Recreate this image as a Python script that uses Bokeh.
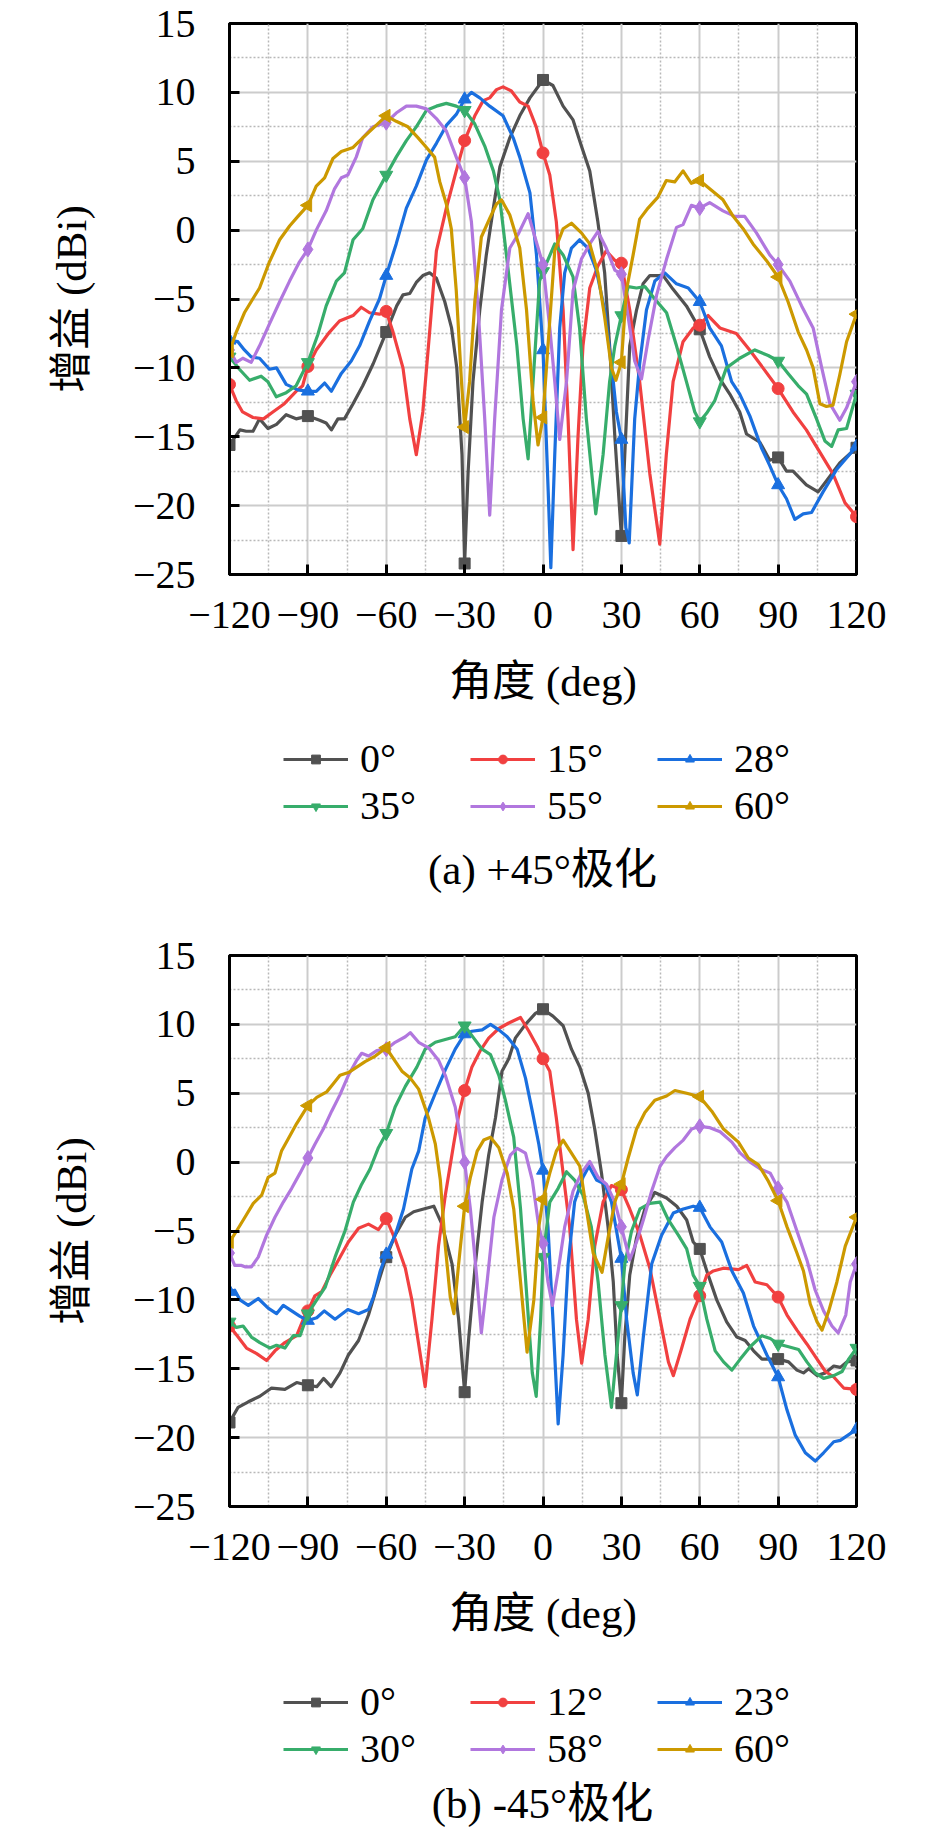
import math
from bokeh.plotting import figure
from bokeh.models import FixedTicker, Legend, LegendItem, Label
from bokeh.layouts import column
from bokeh.embed import file_html
from bokeh.resources import INLINE

# ---------------- data (angle in deg, gain in dBi) ----------------
X_TICKS = [-120, -90, -60, -30, 0, 30, 60, 90, 120]
X_LABELS = ["\u2212120", "\u221290", "\u221260", "\u221230", "0", "30", "60", "90", "120"]
X_MINOR = [-105, -75, -45, -15, 15, 45, 75, 105]
Y_TICKS = [15, 10, 5, 0, -5, -10, -15, -20, -25]
Y_LABELS = ["15", "10", "5", "0", "\u22125", "\u221210", "\u221215", "\u221220", "\u221225"]
Y_MINOR = [12.5, 7.5, 2.5, -2.5, -7.5, -12.5, -17.5, -22.5]

LABELS_A = ["0°", "15°", "28°", "35°", "55°", "60°"]
LABELS_B = ["0°", "12°", "23°", "30°", "58°", "60°"]
CAPTION_A = "(a) +45°极化"
CAPTION_B = "(b) -45°极化"
X_TITLE = "角度 (deg)"
Y_TITLE = "增益 (dBi)"

a0 = [(-120,-15.6),(-116,-14.5),(-113.6,-14.6),(-111,-14.6),(-108.5,-13.7),(-105.3,-14.4),(-102,-14.1),
      (-98.3,-13.4),(-94.5,-13.7),(-90,-13.5),(-85.5,-13.8),(-83,-14.0),(-81,-14.5),(-78.5,-13.7),(-76,-13.7),
      (-72.7,-12.6),(-69,-11.3),(-65,-9.7),(-60,-7.4),(-56,-5.5),(-53.6,-4.7),(-51,-4.6),(-48.5,-3.8),(-46,-3.3),
      (-43.4,-3.1),(-40.8,-3.5),(-37.6,-5.2),(-35,-7.1),(-33,-10),(-31,-16.3),(-30,-24.2),(-28.7,-17.7),
      (-26.8,-11),(-24.2,-5.8),(-21.7,-1.8),(-19,1.6),(-16.5,4.6),(-12.7,6.7),(-8.9,8.3),(-5,9.6),(0,10.9),
      (3.8,10.5),(7.7,9.0),(11.5,8.0),(14.7,6.1),(17.9,4.3),(21,0.6),(23.6,-3.1),(25.5,-8.4),(27.5,-15),
      (30,-22.2),(31.3,-16.3),(33.2,-8.4),(35.8,-5.8),(38.3,-3.9),(40.9,-3.3),(46,-3.3),(49.8,-4.3),(54.9,-5.5),
      (60,-7.2),(63.8,-9.2),(67.7,-10.8),(71.5,-11.9),(75.3,-13.2),(77.9,-14.8),(83,-15.4),(86.8,-16.7),
      (90,-16.5),(93.2,-17.5),(95.7,-17.5),(100.8,-18.5),(105.3,-19.0),(109.7,-17.9),(113.6,-16.9),(120,-15.8)]
a1 = [(-120,-11.2),(-117.4,-12.4),(-115,-13.2),(-111,-13.6),(-107,-13.7),(-103.4,-13.2),(-99,-12.6),
      (-94.5,-11.7),(-92,-11.3),(-90,-9.9),(-86.8,-8.7),(-81.7,-7.4),(-77.9,-6.6),(-72.7,-6.2),(-69.6,-5.6),
      (-66.4,-6.0),(-62.6,-6.1),(-60,-5.9),(-57.4,-7.4),(-53.6,-10),(-51,-13.7),(-48.5,-16.3),(-46,-13.2),
      (-43.4,-7.4),(-40.8,-1.5),(-37,1.6),(-33.2,4.3),(-30,6.5),(-26.1,8.3),(-22.9,9.4),(-20.4,9.6),
      (-17.8,10.2),(-15.3,10.4),(-12.1,10.1),(-8.9,9.3),(-5.7,9.0),(-2.6,7.5),(0,5.6),(2.6,4.0),(5.1,0.6),
      (7.7,-5.8),(9.6,-13.7),(11.5,-23.2),(13.4,-15),(15.3,-8.4),(17.9,-4.2),(21,-2.6),(24.2,-1.5),(27.5,-2.2),
      (30,-2.4),(33.2,-5.8),(37,-11),(40.9,-17.7),(44.7,-22.8),(47.2,-16.3),(49.8,-11),(53.6,-8.1),(57.5,-7.1),
      (60,-6.9),(63.2,-6.2),(67.7,-7.1),(74,-7.5),(79.1,-8.7),(84.2,-10),(90,-11.5),(95.7,-13.2),(100.8,-14.5),
      (105.9,-16.1),(111,-17.7),(115.6,-19.8),(120,-20.8)]
a2 = [(-120,-8.0),(-116.8,-8.1),(-114.3,-8.7),(-111.7,-9.2),(-108.5,-9.3),(-104.7,-10.1),(-102,-10.0),
      (-98.3,-11.2),(-93.8,-11.6),(-90,-11.7),(-86.8,-11.7),(-83.6,-11.1),(-81,-11.7),(-77.2,-10.4),(-73.4,-9.5),
      (-70.2,-8.4),(-66.4,-6.6),(-62.6,-5.0),(-60,-3.3),(-56.2,-1.0),(-52.3,1.6),(-48.5,3.2),(-44.6,5.1),
      (-40.8,6.3),(-37,7.6),(-33.2,8.4),(-30,9.5),(-27.4,10.0),(-24.2,9.6),(-20.4,9.0),(-15.3,8.3),(-11.4,6.7),
      (-8.9,5.3),(-5,2.7),(-2.5,-1.8),(0,-8.7),(2,-19),(3,-24.5),(4.5,-16.3),(6.4,-7.1),(8.3,-3.1),(10.9,-1.3),
      (14,-0.7),(17.2,-1.3),(20.4,-2.9),(23.6,-5.8),(26.2,-9.7),(28.1,-13.2),(30,-15.2),(31.7,-21.6),(33,-22.7),
      (35.1,-13.7),(37,-9.7),(39.6,-5.8),(42.8,-3.7),(46.6,-3.1),(51.1,-3.9),(55.6,-4.2),(60,-5.2),(63.8,-7.1),
      (68.3,-8.4),(72.2,-11.0),(75.3,-11.9),(79.2,-13.5),(83.6,-15.8),(86.8,-17.1),(90,-18.5),(93.2,-19.5),
      (96.4,-21),(99.6,-20.6),(102.8,-20.5),(107.2,-19),(112.3,-17.4),(120,-15.7)]
a3 = [(-120,-9.2),(-116.2,-10.1),(-112.3,-10.9),(-107.9,-10.6),(-105.3,-11),(-102.1,-12.1),(-98.3,-11.8),
      (-94.5,-11.3),(-90,-9.6),(-86.2,-7.6),(-83,-5.5),(-79.1,-3.7),(-76,-3.1),(-72.7,-0.7),(-69,0.1),
      (-65.1,2.2),(-60,4.0),(-56.2,5.3),(-52.3,6.5),(-48.5,7.5),(-44.6,8.7),(-40.8,9.0),(-37,9.2),(-33.2,9.0),
      (-30,8.7),(-26.1,7.7),(-22.3,6.1),(-19,4.3),(-16.5,2.2),(-13.2,-3.1),(-10,-8.4),(-7.6,-13.7),(-5.7,-16.6),
      (-3.8,-11),(-1.3,-3.7),(0,-3.0),(4.5,-1.0),(7.7,-1.8),(11.5,-3.4),(14,-7.1),(16.6,-13.7),(20.2,-20.6),
      (23,-16.3),(25.5,-11),(27.5,-8.4),(30,-6.2),(32.6,-4.1),(35.8,-4.2),(39,-4.1),(42.8,-5.0),(47.3,-6.0),
      (51.1,-8.4),(54.9,-11),(58.1,-13.2),(60,-13.9),(62.6,-13.3),(65.7,-12.4),(70.2,-10),(75.3,-9.3),
      (81.1,-8.7),(86.2,-9.1),(90,-9.5),(93.8,-10.4),(97.7,-11.3),(100.9,-11.9),(104.7,-13.7),(107.9,-15.3),
      (110.5,-15.7),(113,-14.5),(116.2,-14.4),(120,-11.9)]
a4 = [(-120,-8.7),(-117.4,-9.6),(-114.9,-9.3),(-111.7,-9.6),(-108.5,-8.4),(-104.7,-6.8),(-100.8,-5.2),
      (-97,-3.7),(-93.2,-2.3),(-90,-1.4),(-86.8,0.0),(-83,1.4),(-79.8,3.0),(-77.2,3.8),(-74.7,4.0),(-71.5,5.3),
      (-69,6.7),(-65.1,7.5),(-60,7.8),(-56.2,8.5),(-52.3,9.0),(-48.5,9.0),(-44.6,8.8),(-40.8,8.1),(-37,7.2),
      (-33.2,5.3),(-30,3.8),(-27.4,0.6),(-24.8,-5.8),(-22.3,-13.7),(-20.4,-20.7),(-18.5,-13.7),(-15.9,-5.8),
      (-12.7,-1.3),(-9.5,-0.3),(-5.7,1.2),(-3.1,-0.5),(0,-2.5),(2.6,-7.1),(4.5,-11),(6.4,-15.2),(9,-11),
      (11.5,-4.4),(14.7,-2.1),(17.9,-1.0),(21,-0.1),(24.2,-1.3),(27.5,-2.9),(30,-3.2),(32.6,-6.3),(35.1,-9.5),
      (37.7,-10.8),(40.3,-7.9),(43.5,-4.7),(47.3,-2.1),(51.1,0.2),(53.6,0.4),(56.8,1.8),(60,1.6),(63.8,2.0),
      (68.9,1.4),(73.4,1.0),(77.2,1.0),(81.7,-0.2),(86.8,-1.8),(90,-2.5),(94.5,-3.7),(99,-5.5),(103.4,-7.1),
      (106.7,-10),(109.8,-12.6),(113.6,-13.8),(116.2,-12.9),(120,-11)]
a5 = [(-120,-8.8),(-117.4,-7.4),(-114.3,-6.0),(-111.1,-5.0),(-108.5,-4.2),(-104.7,-2.3),(-100.8,-0.7),
      (-97,0.3),(-93.8,1.0),(-90,1.8),(-86.8,3.2),(-83.6,3.8),(-80.4,5.2),(-77.2,5.7),(-72.7,6.0),(-69,6.7),
      (-64.5,7.5),(-60,8.3),(-56.2,7.9),(-51.7,7.5),(-47.8,6.7),(-44.6,6.0),(-41.5,5.3),(-39.5,3.5),(-37,1.9),
      (-35.1,0.1),(-33.2,-4.4),(-31.2,-11),(-30,-14.3),(-28.1,-11),(-26.1,-5.2),(-23.6,-0.5),(-20.4,0.85),
      (-17.8,1.9),(-15.9,2.2),(-12.7,1.1),(-8.9,-1.3),(-6.3,-5.8),(-3.8,-12.4),(-1.9,-15.6),(0,-13.6),
      (1.9,-8.4),(4.5,-1.5),(7.7,0.1),(10.9,0.5),(14.7,-0.2),(17.9,-1.0),(21,-3.1),(23.6,-6.3),(26.2,-10),
      (27.9,-10.9),(30,-9.6),(31.9,-4.4),(34.5,-1.8),(37,0.8),(40.2,1.6),(44,2.4),(47.2,3.6),(50.4,3.5),
      (53.6,4.3),(56.8,3.4),(60,3.6),(63.8,3.0),(68.9,2.2),(72.8,1.0),(76.6,0.1),(80.4,-1.0),(85.5,-2.2),
      (90,-3.4),(93.8,-5.2),(97.7,-7.4),(100.9,-8.7),(103.4,-10),(106,-12.6),(108.5,-12.8),(111,-12.7),
      (113.6,-10.5),(116.2,-8.1),(120,-6.1)]

b0 = [(-120,-18.9),(-116.7,-17.8),(-112.8,-17.4),(-108.4,-17.0),(-103.9,-16.4),(-98.8,-16.5),(-94.3,-16.0),
      (-90,-16.2),(-86.6,-16.3),(-84,-15.7),(-81.1,-16.3),(-77.7,-15.3),(-74.5,-14.0),(-70.6,-12.95),
      (-66.8,-11.1),(-63,-8.7),(-60,-6.9),(-56.6,-5.3),(-52.7,-4.0),(-49.5,-3.6),(-45.7,-3.4),(-41.8,-3.2),
      (-38.7,-4.5),(-34.8,-7.4),(-32.3,-11.4),(-30,-16.7),(-28.4,-12.7),(-25.9,-7.4),(-23.3,-2.9),(-20.8,0.5),
      (-18.2,3.2),(-15.7,6.6),(-13.1,7.5),(-10.6,9.0),(-6.7,10.0),(-2.9,10.8),(0,11.1),(3.8,10.6),(7.7,9.9),
      (10.9,8.2),(14.1,6.9),(17.3,5.0),(19.8,2.4),(22.4,-0.8),(24.9,-4.7),(26.9,-8.7),(28.4,-14.0),(30,-17.5),
      (31.3,-12.7),(33.2,-8.2),(35.8,-5.5),(39,-3.4),(42.8,-2.2),(47.3,-2.6),(51.2,-3.2),(55,-4.2),(57.5,-5.8),
      (60,-6.3),(62.7,-7.9),(66.5,-10.0),(70.3,-11.6),(74.2,-12.7),(77.4,-12.95),(80.6,-13.7),(83.8,-14.3),
      (90,-14.3),(94,-14.5),(97.2,-15.1),(99.7,-15.3),(101.7,-15.0),(104.9,-15.5),(108.1,-15.3),(111.3,-14.8),
      (113.8,-14.9),(116.4,-14.5),(120,-14.4)]
b1 = [(-120,-11.9),(-116.7,-12.7),(-113.5,-13.5),(-109.6,-13.9),(-105.8,-14.4),(-102.6,-13.7),(-98.8,-13.1),
      (-94.3,-12.6),(-91.1,-11.1),(-90,-10.8),(-87.3,-9.7),(-84.7,-9.4),(-81.5,-8.2),(-77.7,-6.9),(-74.5,-5.8),
      (-70.6,-4.8),(-66.8,-4.5),(-63,-4.9),(-60,-4.1),(-56.6,-5.6),(-52.7,-7.7),(-50.2,-10.0),(-47.6,-13.2),
      (-45.1,-16.3),(-42.5,-11.4),(-40,-6.1),(-37.4,-2.4),(-34.2,1.3),(-32.3,3.4),(-30,5.2),(-27.2,6.9),
      (-24,8.1),(-20.8,9.0),(-16.9,9.7),(-13.1,10.1),(-8.6,10.5),(-5.4,9.5),(-2.2,8.4),(0,7.5),(2.6,6.6),
      (5.1,3.2),(7.7,-0.8),(10.2,-4.7),(12.8,-11.4),(14.8,-14.6),(17.3,-11.4),(19.8,-6.1),(23,-2.9),
      (26.2,-1.7),(30,-2.0),(33.2,-3.4),(37.1,-5.3),(40.9,-7.7),(44.8,-11.4),(48,-14.5),(49.9,-15.5),
      (53.1,-13.5),(56.3,-11.4),(60,-9.7),(62.7,-8.2),(65.2,-7.9),(69.1,-7.7),(74.8,-7.8),(78,-7.5),
      (81.2,-8.7),(85.7,-8.9),(90,-9.8),(93.4,-11.1),(97.2,-12.2),(101,-13.2),(104.9,-14.3),(108.1,-15.2),
      (111.3,-15.6),(115.1,-16.4),(120,-16.5)]
b2 = [(-120,-9.4),(-118,-9.3),(-116,-10.0),(-112.8,-10.4),(-109,-9.9),(-105.2,-10.6),(-102,-11.0),
      (-99.4,-10.4),(-96.2,-10.8),(-93,-11.2),(-90,-11.5),(-86.6,-11.3),(-83.7,-10.8),(-79.6,-11.4),
      (-74.7,-10.7),(-70.6,-11.0),(-66.8,-10.7),(-64.9,-9.8),(-62.3,-7.9),(-60,-6.7),(-56.6,-5.3),(-53.4,-3.4),
      (-50.2,-0.5),(-47.6,0.8),(-45.1,3.2),(-41.2,5.0),(-37.4,6.7),(-33.6,8.2),(-30,9.3),(-27.2,9.5),
      (-23.3,9.6),(-20.1,10.0),(-16.9,9.6),(-13.7,9.1),(-9.9,8.2),(-6.7,6.1),(-4.1,3.7),(-1.6,1.3),(0,-0.6),
      (1.9,-4.7),(3.8,-11.4),(5.8,-19.0),(7.7,-14.0),(9.6,-7.4),(12.1,-2.9),(15.3,-1.1),(17.6,-0.3),
      (20.5,-1.3),(23.7,-1.6),(26.2,-2.9),(30,-7.0),(32,-11.4),(34.5,-15.3),(36.1,-16.9),(38.4,-12.7),
      (41.6,-7.4),(45.4,-5.3),(49.9,-3.7),(53.7,-3.4),(57.5,-3.2),(60,-3.3),(63.9,-4.7),(68.4,-5.8),
      (72.3,-7.9),(76.7,-9.5),(80.6,-11.9),(85.7,-14.0),(90,-15.6),(93.4,-18.0),(96.5,-19.8),(100.4,-21.1),
      (104.2,-21.7),(107.4,-21.1),(111.3,-20.3),(113.8,-20.2),(120,-19.4)]
b3 = [(-120,-11.6),(-117.3,-12.0),(-114.8,-11.9),(-111.6,-12.7),(-108.4,-13.1),(-104.5,-13.5),(-102,-13.3),
      (-98.8,-13.5),(-95.6,-12.6),(-93,-12.6),(-90,-11.0),(-86.6,-10.0),(-83.4,-9.1),(-79.6,-6.9),(-75.8,-5.0),
      (-72.6,-2.9),(-69.4,-1.6),(-66.2,-0.5),(-63,1.05),(-60,2.1),(-56.6,4.0),(-52.7,5.5),(-48.3,6.9),
      (-45.1,8.2),(-41.2,8.7),(-37.4,8.9),(-33.6,9.1),(-30,9.9),(-26.5,9.0),(-23.3,8.2),(-20.1,7.8),
      (-16.9,6.3),(-14.4,4.5),(-11.2,1.8),(-8.6,-3.4),(-6.1,-10.0),(-4.1,-15.3),(-2.6,-17.0),(-0.9,-11.4),
      (0,-6.9),(2.6,-2.9),(5.8,-1.9),(9,-0.7),(12.1,-1.3),(15.3,-2.4),(18.5,-4.7),(21.1,-8.7),(23.7,-14.0),
      (26.2,-17.8),(28.1,-14.0),(30,-10.4),(31.3,-7.4),(33.9,-5.0),(37.1,-3.4),(40.9,-3.0),(44.8,-2.9),
      (48,-4.2),(51.8,-5.3),(55,-6.3),(57.5,-8.2),(60,-9.0),(62.7,-11.4),(65.9,-13.7),(69.1,-14.5),
      (72.3,-15.1),(75.5,-14.3),(79.3,-13.4),(83.8,-12.6),(87,-12.8),(90,-13.2),(94,-13.4),(97.8,-13.6),
      (101,-14.5),(104.2,-15.3),(107.4,-15.7),(111.3,-15.5),(114.5,-15.2),(117,-14.3),(120,-13.5)]
b4 = [(-120,-6.6),(-118,-7.5),(-115.4,-7.5),(-114.1,-7.6),(-111.6,-7.6),(-109,-6.9),(-105.8,-5.3),
      (-102.6,-4.0),(-99.4,-2.9),(-96.2,-1.9),(-93,-0.8),(-90,0.3),(-87.3,1.3),(-84.1,2.4),(-80.9,3.7),
      (-77.7,4.9),(-74.5,6.3),(-71.3,7.4),(-69.4,7.9),(-66.8,7.7),(-63.6,8.1),(-60,8.2),(-56.6,8.7),
      (-52.7,9.1),(-50.8,9.4),(-47.6,8.7),(-43.8,8.3),(-40,7.4),(-37.4,6.3),(-33.6,4.0),(-31.6,1.8),(-30,0.0),
      (-27.8,-3.4),(-25.2,-8.7),(-23.6,-12.4),(-21.4,-8.7),(-18.8,-4.0),(-15.7,-1.3),(-12.5,0.5),(-9.9,1.0),
      (-6.7,0.65),(-4.1,-1.3),(-1.6,-4.7),(0,-5.9),(1.9,-8.7),(3.6,-10.4),(5.8,-7.9),(8.3,-4.7),(11.5,-2.1),
      (14.7,-0.8),(17.9,0.05),(21.1,-1.1),(24.3,-1.6),(27.5,-2.9),(30,-4.7),(33.2,-7.1),(35.8,-5.8),
      (38.4,-4.2),(41.6,-2.1),(44.8,-0.3),(47.3,0.4),(50.5,1.05),(53.7,1.6),(56.9,2.4),(60,2.6),(63.9,2.5),
      (67.8,2.2),(72.3,1.45),(75.5,0.65),(79.3,0.0),(83.2,-0.5),(87,-0.8),(90,-1.9),(93.4,-2.9),(97.2,-5.0),
      (101,-7.1),(104.2,-9.3),(107.4,-10.8),(110.6,-11.9),(113,-12.4),(115.9,-11.1),(117.6,-8.7),(120,-7.4)]
b5 = [(-120,-5.8),(-117.3,-5.0),(-114.1,-4.0),(-110.9,-3.0),(-107.7,-2.4),(-105.2,-1.1),(-102.6,-0.8),
      (-100.1,0.8),(-97.5,1.7),(-94.3,2.8),(-90,4.1),(-86.6,4.7),(-82.8,5.1),(-80.2,5.7),(-77.7,6.3),
      (-74.5,6.5),(-71.3,6.9),(-68.1,7.3),(-64.2,7.7),(-60,8.3),(-57.2,7.5),(-54,6.6),(-50.8,6.1),(-47.6,5.3),
      (-43.8,3.2),(-41.2,1.3),(-39.3,-1.3),(-37.4,-6.1),(-35.5,-9.8),(-34.1,-11.0),(-32.3,-7.4),(-30,-3.2),
      (-27.8,-1.1),(-25.2,0.8),(-22.7,1.6),(-20.1,1.8),(-16.9,1.05),(-13.7,-0.8),(-11.2,-3.4),(-8.6,-8.7),
      (-6.1,-13.8),(-3.5,-10.0),(-1.6,-4.7),(0,-2.7),(2.6,-0.8),(5.1,0.8),(7.7,1.6),(10.9,0.65),(14.1,-0.3),
      (16.6,-3.4),(19.2,-6.6),(22.6,-8.0),(24.9,-5.5),(27.5,-2.9),(30,-1.6),(32.6,0.3),(35.8,2.4),(39,3.6),
      (42.8,4.5),(47.3,4.8),(50.5,5.2),(55,5.0),(60,4.75),(64.6,3.7),(69.1,2.4),(74.8,1.45),(78.6,0.3),
      (82.5,-0.2),(86.3,-1.4),(90,-2.8),(93.4,-4.7),(97.2,-6.6),(99.7,-7.9),(102.3,-10.3),(104.9,-11.6),
      (106.8,-12.2),(109.4,-10.8),(112.5,-8.7),(115.7,-6.1),(120,-4.0)]

SERIES_A = [a0, a1, a2, a3, a4, a5]
SERIES_B = [b0, b1, b2, b3, b4, b5]

# ---------------- style ----------------
COLORS = ["#515151", "#F14040", "#1A6FDF", "#37AD6B", "#B177DE", "#CC9900"]
MARKERS = ["square", "circle", "triangle", "inverted_triangle", "diamond", "triangle"]
MARKER_ANGLES = [0, 0, 0, 0, 0, math.pi / 2]
MARKER_SIZES = [11, 12, 13, 13, 15, 13]
LINE_W = 3.2
FONT = "Liberation Serif, Noto Sans CJK SC"
FS = "40px"
FS_BIG = "43px"
W = 929
FRAME_W = 627
LEFT = 229
FRAME_H = 551
BOTTOM = 160


def draw_series(fig, series):
    rends = []
    for k, data in enumerate(series):
        xs = [d[0] for d in data]
        ys = [d[1] for d in data]
        mx = [d[0] for d in data if d[0] in X_TICKS]
        my = [d[1] for d in data if d[0] in X_TICKS]
        rl = fig.line(xs, ys, line_color=COLORS[k], line_width=LINE_W, line_join="round")
        rm = fig.scatter(mx, my, marker=MARKERS[k], size=MARKER_SIZES[k], angle=MARKER_ANGLES[k],
                         fill_color=COLORS[k], line_color=COLORS[k], line_width=1)
        rends.append((rl, rm))
    return rends


def make_plot(series, top):
    height = top + FRAME_H + BOTTOM
    p = figure(width=W, height=height, x_range=(-120, 120), y_range=(-25, 15),
               output_backend="svg", toolbar_location=None,
               min_border_left=LEFT, min_border_right=W - LEFT - FRAME_W,
               min_border_top=top, min_border_bottom=BOTTOM)
    p.background_fill_color = "white"
    p.border_fill_color = "white"
    p.outline_line_color = "black"
    p.outline_line_width = 3
    p.outline_line_alpha = 1

    p.xaxis.ticker = FixedTicker(ticks=X_TICKS, minor_ticks=X_MINOR)
    p.yaxis.ticker = FixedTicker(ticks=Y_TICKS, minor_ticks=Y_MINOR)
    p.xaxis.major_label_overrides = {t: s for t, s in zip(X_TICKS, X_LABELS)}
    p.yaxis.major_label_overrides = {t: s for t, s in zip(Y_TICKS, Y_LABELS)}

    for ax in (p.xaxis, p.yaxis):
        ax.axis_line_color = "black"
        ax.axis_line_width = 3
        ax.major_tick_line_color = "black"
        ax.major_tick_line_width = 3
        ax.major_tick_in = 10
        ax.major_tick_out = 0
        ax.minor_tick_in = 0
        ax.minor_tick_out = 0
        ax.major_label_text_font = FONT
        ax.major_label_text_font_size = FS
        ax.major_label_text_color = "black"
        ax.axis_label_text_font = FONT
        ax.axis_label_text_font_size = FS_BIG
        ax.axis_label_text_font_style = "normal"
        ax.axis_label_text_color = "black"
    p.xaxis.axis_label = X_TITLE
    p.yaxis.axis_label = Y_TITLE
    p.xaxis.major_label_standoff = 27
    p.yaxis.major_label_standoff = 34
    p.xaxis.axis_label_standoff = 27
    p.yaxis.axis_label_standoff = 35

    for g in (p.xgrid, p.ygrid):
        g.grid_line_color = "#cccccc"
        g.grid_line_width = 2
        g.minor_grid_line_color = "#b8b8b8"
        g.minor_grid_line_width = 1.5
        g.minor_grid_line_dash = "2 2"

    draw_series(p, series)
    return p


def make_key(series, labels, caption, height, leg_y, cap_y):
    # legend + caption strip below a plot; the series are drawn off-view only so
    # that the legend has renderers to take its line/marker samples from
    q = figure(width=W, height=height, x_range=(-120, 120), y_range=(1000, 1001),
               output_backend="svg", toolbar_location=None,
               x_axis_type=None, y_axis_type=None,
               min_border_left=LEFT, min_border_right=W - LEFT - FRAME_W,
               min_border_top=0, min_border_bottom=0)
    q.outline_line_color = None
    q.background_fill_color = "white"
    q.border_fill_color = "white"
    q.xgrid.visible = False
    q.ygrid.visible = False
    rends = draw_series(q, series)
    items = [LegendItem(label=lab, renderers=list(r)) for lab, r in zip(labels, rends)]
    leg = Legend(items=items, location=(283 - LEFT, leg_y), orientation="horizontal", ncols=3,
                 glyph_width=65, glyph_height=22, label_height=44, label_width=110,
                 label_standoff=12, spacing=0, padding=0, margin=0,
                 label_text_font=FONT, label_text_font_size=FS, label_text_color="black",
                 background_fill_alpha=0, border_line_alpha=0)
    q.add_layout(leg, "center")
    q.add_layout(Label(x=542 - LEFT, y=cap_y, x_units="screen", y_units="screen",
                       text=caption, text_align="center", text_baseline="middle",
                       text_font=FONT, text_font_size=FS_BIG, text_color="black"))
    return q


pa = make_plot(SERIES_A, 23)          # height 734
ka = make_key(SERIES_A, LABELS_A, CAPTION_A, 166, 71, 31)
pb = make_plot(SERIES_B, 55)          # height 766
kb = make_key(SERIES_B, LABELS_B, CAPTION_B, 168, 62, 31)
layout = column(pa, ka, pb, kb, spacing=0)

open("out.html", "w").write(file_html(layout, INLINE))
